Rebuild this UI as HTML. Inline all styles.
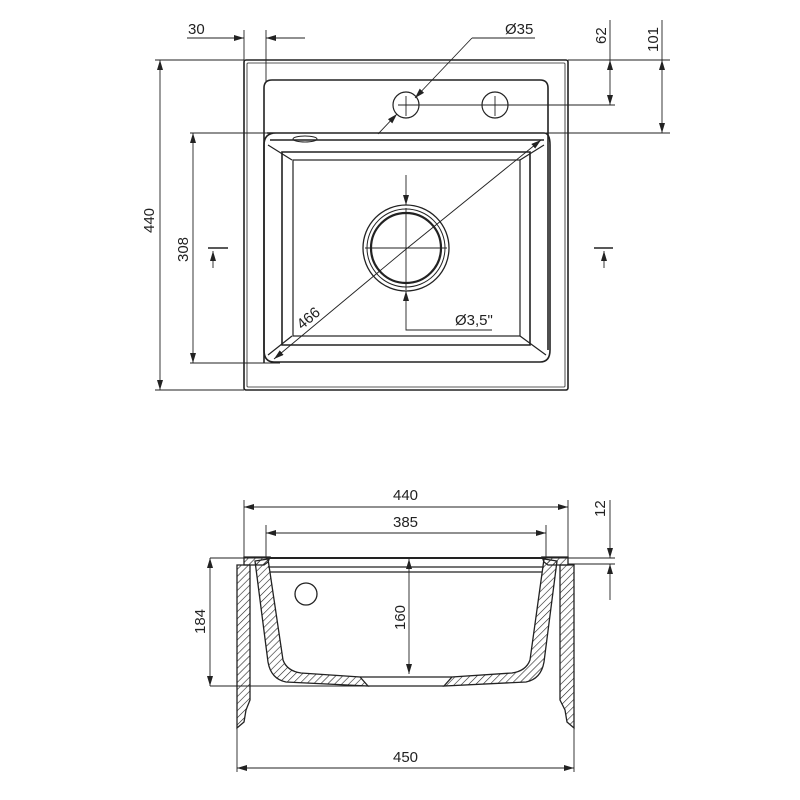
<!DOCTYPE html>
<html><head><style>body{margin:0;background:#fff}svg{display:block}text{font-family:"Liberation Sans",sans-serif;font-size:15px;fill:#222}</style></head><body>
<svg width="800" height="800" viewBox="0 0 800 800" xmlns="http://www.w3.org/2000/svg">
<defs>
<pattern id="h" width="5" height="5" patternUnits="userSpaceOnUse" patternTransform="rotate(45)"><line x1="0" y1="0" x2="0" y2="5" stroke="#222" stroke-width="1.2"/></pattern>
<marker id="a" viewBox="0 0 10 6" refX="10" refY="3" markerWidth="10" markerHeight="6" orient="auto-start-reverse" markerUnits="userSpaceOnUse"><path d="M0,0L10,3L0,6z" fill="#222"/></marker>
</defs>
<g fill="none" stroke="#222" stroke-width="1.6">
<rect x="244" y="60" width="324" height="330" rx="2"/>
<rect x="247" y="63" width="318" height="324" rx="1" stroke-width="0.8"/>
<path d="M264,363 V88 Q264,80 272,80 H540 Q548,80 548,88 V350"/>
<path d="M267,133 H544 Q550,133 550,145 V350 Q550,362 540,362 H274 Q264,362 264,350 V145 Q264,133 276,133"/>
<path d="M270,140 H544 M282,152 H530 V345 H282 Z"/>
<rect x="293" y="160" width="227" height="176" stroke-width="1.2"/>
<path d="M268,145 L292,160 M544,145 L520,160 M268,355 L292,336 M546,355 L520,336" stroke-width="1.2"/>
<circle cx="406" cy="105" r="13" stroke-width="1.2"/><circle cx="495" cy="105" r="13" stroke-width="1.2"/>
<circle cx="406" cy="248" r="43" stroke-width="1.3"/><circle cx="406" cy="248" r="39" stroke-width="1"/><circle cx="406" cy="248" r="35" stroke-width="2.2"/>
<ellipse cx="305" cy="139" rx="12" ry="3" stroke-width="1"/>
</g>
<g fill="none" stroke="#222" stroke-width="0.9">
<line x1="365" y1="248" x2="447" y2="248"/><line x1="406" y1="208" x2="406" y2="290"/>
<line x1="398" y1="105" x2="415" y2="105"/><line x1="406" y1="96" x2="406" y2="116"/>
<line x1="487" y1="105" x2="503" y2="105"/><line x1="495" y1="96" x2="495" y2="116"/>
<line x1="244" y1="30" x2="244" y2="60"/><line x1="266" y1="30" x2="266" y2="82"/>
<line x1="187" y1="38" x2="244" y2="38" marker-end="url(#a)"/><line x1="305" y1="38" x2="266" y2="38" marker-end="url(#a)"/>
<line x1="472" y1="38" x2="535" y2="38"/><line x1="472" y1="38" x2="415" y2="98" marker-end="url(#a)"/><line x1="378" y1="134" x2="397" y2="114" marker-end="url(#a)"/>
<line x1="568" y1="60" x2="670" y2="60"/><line x1="410" y1="105" x2="615" y2="105"/><line x1="546" y1="133" x2="670" y2="133"/><line x1="190" y1="133" x2="290" y2="133"/><line x1="190" y1="363" x2="280" y2="363"/><line x1="155" y1="390" x2="244" y2="390"/><line x1="155" y1="60" x2="244" y2="60"/>
<line x1="610" y1="20" x2="610" y2="60"/><line x1="610" y1="85" x2="610" y2="60" marker-end="url(#a)"/><line x1="610" y1="85" x2="610" y2="105" marker-end="url(#a)"/>
<line x1="662" y1="20" x2="662" y2="60"/><line x1="662" y1="95" x2="662" y2="60" marker-end="url(#a)"/><line x1="662" y1="95" x2="662" y2="133" marker-end="url(#a)"/>
<line x1="160" y1="225" x2="160" y2="60" marker-end="url(#a)"/><line x1="160" y1="225" x2="160" y2="390" marker-end="url(#a)"/>
<line x1="193" y1="250" x2="193" y2="133" marker-end="url(#a)"/><line x1="193" y1="250" x2="193" y2="363" marker-end="url(#a)"/>
<line x1="405" y1="250" x2="274" y2="359" marker-end="url(#a)"/><line x1="405" y1="250" x2="541" y2="140" marker-end="url(#a)"/>
<line x1="406" y1="175" x2="406" y2="205" marker-end="url(#a)"/><line x1="406" y1="310" x2="406" y2="291" marker-end="url(#a)"/>
<polyline points="406,310 406,330 492,330"/>
<line x1="208" y1="248" x2="228" y2="248" stroke-width="1.4"/><line x1="213" y1="268" x2="213" y2="251" marker-end="url(#a)"/>
<line x1="594" y1="248" x2="613" y2="248" stroke-width="1.4"/><line x1="604" y1="268" x2="604" y2="251" marker-end="url(#a)"/>
</g>
<text x="188" y="34">30</text><text x="505" y="34">Ø35</text><text x="455" y="325">Ø3,5"</text>
<text transform="translate(606,44) rotate(-90)">62</text><text transform="translate(658,52) rotate(-90)">101</text>
<text transform="translate(154,233) rotate(-90)">440</text><text transform="translate(188,262) rotate(-90)">308</text>
<text transform="translate(302,330) rotate(-40)">466</text>
<g stroke="#222" stroke-width="1.3">
<path d="M237,565 H250 V700 L246,710 L244,722 L237,728 Z" fill="url(#h)"/>
<path d="M560,565 H574 V728 L567,722 L565,710 L560,700 Z" fill="url(#h)"/>
<path d="M244,565 V557 H270 L268,562 L264,565 Z" fill="url(#h)"/>
<path d="M542,557 H568 V565 H548 L544,562 Z" fill="url(#h)"/>
<path d="M268,559 L283,660 Q287,671 301,673 L360,677 L368,686 L286,682 Q271,679 268,662 L255,561 Z" fill="url(#h)"/>
<path d="M544,559 L530,660 Q526,671 512,673 L452,677 L444,686 L526,682 Q541,679 544,662 L557,561 Z" fill="url(#h)"/>
<path d="M360,677 H452 M368,686 H444" fill="none"/>
<path d="M266,558 H546" fill="none" stroke-width="2"/>
<path d="M270,572 H542 M268,567 H544" fill="none"/>
<circle cx="306" cy="594" r="11" fill="none"/>
</g>
<g fill="none" stroke="#222" stroke-width="0.9">
<line x1="244" y1="500" x2="244" y2="558"/><line x1="568" y1="500" x2="568" y2="558"/>
<line x1="266" y1="525" x2="266" y2="558"/><line x1="546" y1="525" x2="546" y2="558"/>
<line x1="406" y1="507" x2="244" y2="507" marker-end="url(#a)"/><line x1="406" y1="507" x2="568" y2="507" marker-end="url(#a)"/>
<line x1="406" y1="533" x2="266" y2="533" marker-end="url(#a)"/><line x1="406" y1="533" x2="546" y2="533" marker-end="url(#a)"/>
<line x1="210" y1="558" x2="615" y2="558"/><line x1="568" y1="564" x2="615" y2="564"/><line x1="210" y1="686" x2="368" y2="686"/>
<line x1="610" y1="500" x2="610" y2="558" marker-end="url(#a)"/><line x1="610" y1="600" x2="610" y2="564" marker-end="url(#a)"/>
<line x1="210" y1="620" x2="210" y2="558" marker-end="url(#a)"/><line x1="210" y1="620" x2="210" y2="686" marker-end="url(#a)"/>
<line x1="409" y1="615" x2="409" y2="559" marker-end="url(#a)"/><line x1="409" y1="615" x2="409" y2="674" marker-end="url(#a)"/>
<line x1="237" y1="728" x2="237" y2="772"/><line x1="574" y1="728" x2="574" y2="772"/>
<line x1="406" y1="768" x2="237" y2="768" marker-end="url(#a)"/><line x1="406" y1="768" x2="574" y2="768" marker-end="url(#a)"/>
</g>
<text x="393" y="500">440</text><text x="393" y="527">385</text><text x="393" y="762">450</text>
<text transform="translate(605,517) rotate(-90)">12</text><text transform="translate(205,634) rotate(-90)">184</text><text transform="translate(405,630) rotate(-90)">160</text>
</svg>
</body></html>
